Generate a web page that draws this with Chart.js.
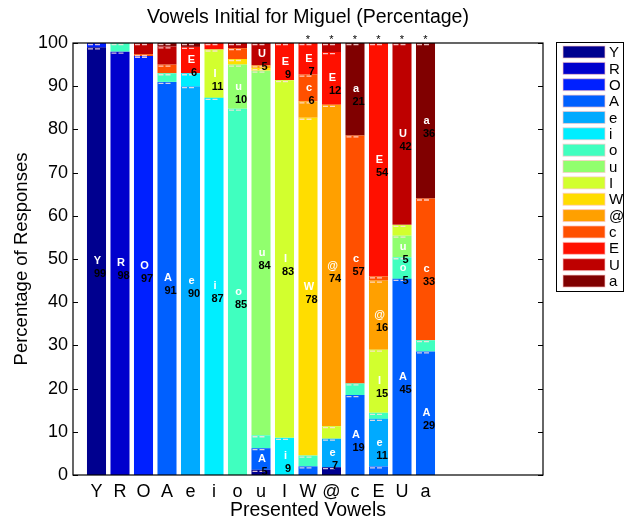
<!DOCTYPE html>
<html>
<head>
<meta charset="utf-8">
<script src="https://cdn.jsdelivr.net/npm/chart.js@4"></script>
<style>
  html, body { margin: 0; padding: 0; background: #fff; }
</style>
</head>
<body>
<canvas id="myChart" width="629" height="527"></canvas>
<script>
// presented vowels (x categories) and response vowels (stack series)
const presented = ['Y', 'R', 'O', 'A', 'e', 'i', 'o', 'u', 'I', 'W', '@', 'c', 'E', 'U', 'a'];
const responses = ['Y', 'R', 'O', 'A', 'e', 'i', 'o', 'u', 'I', 'W', '@', 'c', 'E', 'U', 'a'];
const starred = ['W', '@', 'c', 'E', 'U', 'a'];

// percentage of responses, one value per presented vowel
const respY = [99, 0, 0, 0, 0, 0, 0, 1.2, 0, 0, 1.8, 0, 0, 0, 0];
const respR = [0, 98, 0, 0, 0, 0, 0, 0, 0, 0, 0, 0, 0, 0, 0];
const respO = [1, 0, 97, 0, 0, 0, 0, 0, 0, 0, 0, 0, 0, 0, 0];
const respA = [0, 0, 0, 91, 0, 0, 0, 5, 0, 2, 0, 18.5, 2, 45.4, 28.6];
const respe = [0, 0, 0, 0, 90, 0, 0, 0, 0, 0, 6.6, 0, 11, 0, 0];
const respi = [0, 0, 0, 0, 3, 87.3, 0, 0, 8.6, 0, 0, 0, 0, 0, 0];
const respo = [0, 2, 0, 2, 0, 0, 84.8, 3, 0, 2.5, 0, 2.7, 1.4, 5, 2.6];
const respu = [0, 0, 0, 0, 0, 0, 10.2, 84.4, 0, 0, 0, 0, 0, 5, 0];
const respI = [0, 0, 0, 0, 0, 11.2, 0, 0, 82.8, 0, 2.9, 0, 14.6, 2.5, 0];
const respW = [0, 0, 0, 0, 0, 0, 1.3, 0.6, 0, 78.2, 0, 0, 0, 0, 0];
const respAt = [0, 0, 0, 0, 0, 0, 0, 0.6, 0, 3.8, 74.4, 0, 16, 0, 0];
const respc = [0, 0, 0.4, 2, 0, 0, 2.5, 0, 0, 6.2, 0, 57.4, 1, 0, 32.8];
const respE = [0, 0, 0, 0, 6.1, 1.5, 0, 0, 8.6, 7.3, 12.2, 0, 54, 0, 0];
const respU = [0, 0, 2.6, 4.2, 0, 0, 1.2, 5.2, 0, 0, 2.1, 0, 0, 42.1, 0];
const respa = [0, 0, 0, 0.8, 0.9, 0, 0, 0, 0, 0, 0, 21.4, 0, 0, 36];

const series = [respY, respR, respO, respA, respe, respi, respo, respu,
                respI, respW, respAt, respc, respE, respU, respa];

const colors = [
  'rgb(0,0,143)', 'rgb(0,0,205)', 'rgb(0,32,255)', 'rgb(0,96,255)', 'rgb(0,170,255)',
  'rgb(0,238,255)', 'rgb(64,255,191)', 'rgb(145,255,110)', 'rgb(210,255,46)', 'rgb(255,221,0)',
  'rgb(255,160,0)', 'rgb(255,80,0)', 'rgb(255,16,0)', 'rgb(190,0,0)', 'rgb(128,0,0)'
];

Chart.defaults.font.family = '"Liberation Sans", Arial, Helvetica, sans-serif';
Chart.defaults.color = '#000';

const datasets = responses.map((r, k) => ({
  label: r,
  data: series[k].map((v, i) => ({ x: i + 1, y: v })),
  backgroundColor: colors[k],
  borderWidth: 0,
  categoryPercentage: 1,
  barPercentage: 0.81,
}));

// segment labels, white dashes, frame, stars and legend box
const overlay = {
  id: 'overlay',
  afterDatasetsDraw(chart) {
    const { ctx, chartArea: ca, scales: { x, y } } = chart;
    ctx.save();

    chart.data.datasets.forEach((ds, k) => {
      chart.getDatasetMeta(k).data.forEach((bar, i) => {
        if (!ds.data[i].y) return;
        const left = bar.x - bar.width / 2;
        ctx.strokeStyle = 'rgba(255,225,225,0.85)';
        ctx.lineWidth = 1.3;
        ctx.setLineDash([5, 2]);
        ctx.beginPath();
        ctx.moveTo(left + 1, bar.y + 1.5);
        ctx.lineTo(left + 14, bar.y + 1.5);
        ctx.stroke();
      });
    });
    ctx.setLineDash([]);

    ctx.textAlign = 'center';
    ctx.textBaseline = 'middle';
    chart.data.datasets.forEach((ds, k) => {
      chart.getDatasetMeta(k).data.forEach((bar, i) => {
        const v = ds.data[i].y;
        if (v < 4.5) return;
        const mid = (bar.y + bar.base) / 2;
        ctx.font = 'bold 11px "Liberation Sans", Arial, sans-serif';
        ctx.fillStyle = '#fff';
        ctx.fillText(ds.label, bar.x + 1, mid);
        ctx.fillStyle = '#000';
        ctx.fillText(String(Math.round(v)), bar.x + 3.5, mid + 13);
      });
    });

    // axes box with inward ticks
    ctx.strokeStyle = '#000';
    ctx.lineWidth = 1.2;
    ctx.strokeRect(ca.left, ca.top, ca.width, ca.height);
    ctx.lineWidth = 1;
    ctx.beginPath();
    y.ticks.forEach(t => {
      const py = Math.round(y.getPixelForValue(t.value)) + 0.5;
      ctx.moveTo(ca.left, py); ctx.lineTo(ca.left + 5, py);
      ctx.moveTo(ca.right, py); ctx.lineTo(ca.right - 5, py);
    });
    ctx.stroke();

    // significance stars
    ctx.fillStyle = '#000';
    ctx.font = '11px "Liberation Sans", Arial, sans-serif';
    starred.forEach(s => {
      const px = x.getPixelForValue(presented.indexOf(s) + 1);
      ctx.fillText('*', px, ca.top - 3);
    });

    // legend
    const lx = ca.right + 13, ly = ca.top - 1, lw = 67, lh = 249, step = 16.36;
    ctx.fillStyle = '#fff';
    ctx.fillRect(lx, ly, lw, lh);
    ctx.strokeStyle = '#000';
    ctx.lineWidth = 1;
    ctx.strokeRect(lx + 0.5, ly + 0.5, lw, lh);
    ctx.font = '15px "Liberation Sans", Arial, sans-serif';
    ctx.textAlign = 'left';
    chart.data.datasets.forEach((ds, k) => {
      const cy = ly + 10 + k * step;
      ctx.fillStyle = ds.backgroundColor;
      ctx.fillRect(lx + 7, cy - 6, 42, 12);
      ctx.strokeStyle = 'rgba(255,200,200,0.7)';
      ctx.strokeRect(lx + 7, cy - 6, 42, 12);
      ctx.fillStyle = '#000';
      ctx.fillText(ds.label, lx + 53, cy + 1);
    });
    ctx.restore();
  }
};

const config = {
  type: 'bar',
  data: { datasets },
  options: {
    responsive: false,
    animation: false,
    layout: { padding: { left: 0, right: 86, top: 0, bottom: 0 } },
    plugins: {
      legend: { display: false },
      tooltip: { enabled: false },
      title: {
        display: true,
        fullSize: false,
        text: 'Vowels Initial for Miguel (Percentage)',
        color: '#000',
        font: { size: 19.5, weight: 'normal' },
        padding: { top: 6.3, bottom: 13.3 },
      },
    },
    scales: {
      x: {
        type: 'linear',
        stacked: true,
        min: 0,
        max: 20,
        offset: false,
        grid: { display: false, drawTicks: false },
        border: { display: false },
        afterBuildTicks: s => { s.ticks = presented.map((p, i) => ({ value: i + 1 })); },
        ticks: {
          callback: v => presented[v - 1] ?? '',
          color: '#000',
          font: { size: 18 },
          padding: 6,
          autoSkip: false,
          maxRotation: 0,
        },
        title: {
          display: true,
          text: 'Presented Vowels',
          color: '#000',
          font: { size: 19.5 },
          padding: { top: 0, bottom: 4.3 },
        },
        afterFit: s => { s.height = 52; },
      },
      y: {
        stacked: true,
        min: 0,
        max: 100,
        grid: { display: false, drawTicks: false },
        border: { display: false },
        ticks: { stepSize: 10, color: '#000', font: { size: 18 }, padding: 5 },
        title: {
          display: true,
          text: 'Percentage of Responses',
          color: '#000',
          font: { size: 18.5 },
          padding: { top: 11, bottom: 0 },
        },
        afterFit: s => { s.width = 73; },
      },
    },
  },
  plugins: [overlay],
};

const myChart = new Chart(document.getElementById('myChart'), config);
</script>
</body>
</html>
